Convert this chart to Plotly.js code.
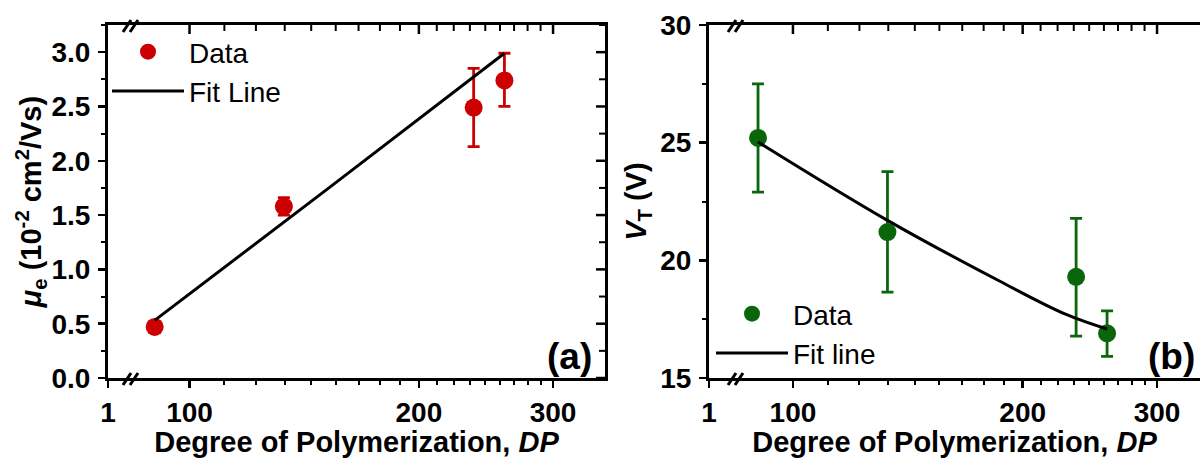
<!DOCTYPE html>
<html>
<head>
<meta charset="utf-8">
<script src="https://cdn.plot.ly/plotly-3.0.1.min.js"></script>
<style>html,body{margin:0;padding:0;background:#fff;}#chart{width:1200px;height:458px;}</style>
</head>
<body>
<div id="chart"></div>
<script>
// ---- data ----
const dpA = [90, 133, 236, 259];
const muA = [0.47, 1.58, 2.49, 2.74];
const muErrPlus = [0.05, 0.08, 0.36, 0.25];
const muErrMinus = [0.05, 0.08, 0.36, 0.24];
const fitDpA = [90, 153, 259];
const fitMuA = [0.53, 1.76, 2.99];

const dpB = [90, 133, 235, 258];
const vtB = [25.2, 21.2, 19.3, 16.9];
const vtErrPlus = [2.3, 2.57, 2.48, 0.95];
const vtErrMinus = [2.3, 2.55, 2.52, 0.98];
const fitDpB = [90, 133, 187, 228, 258];
const fitVtB = [25.03, 21.7, 19.1, 17.7, 17.08];

const xTickVals = [100, 200, 300];
const xTickText = ['100', '200', '300'];
const breakLabel = '1';
const muTicks = [0, 0.5, 1.0, 1.5, 2.0, 2.5, 3.0];
const vtTicks = [15, 20, 25, 30];

// ---- styling ----
const W = 1200, H = 458;
const FONT = 'Liberation Sans, Arial, Helvetica, sans-serif';
const RED = '#cc0000', GREEN = '#0a660a';
const px = v => v / W, py = v => 1 - v / H;

const yDom = [py(378), py(25)];
const domA = [px(108), px(605)];
const domB = [px(709), 1];
const rangeA = [1.893, 2.5453];
const rangeB = [1.890, 2.5334];
const rangeMu = [0, 3.25];
const rangeVt = [15, 30];

// minor tick values (8 minors between log majors, 1 between linear majors)
const xMinors = [];
for (let d = 100; d < 300; d += 100) for (let k = 1; k < 9; k++) xMinors.push(d + 100 * k / 9);
const muMinors = muTicks.map(v => v + 0.25);

const tickFont = {family: FONT, size: 28, weight: 'bold', color: '#000'};
const titleFont = {family: FONT, size: 29, weight: 'bold', color: '#000'};
const lineStyle = {showline: true, linewidth: 3, linecolor: '#000', showgrid: false, zeroline: false};

function xAxisBottom(dom, range, anchor) {
  const leftVal = Math.pow(10, range[0]);
  return Object.assign({
    domain: dom, anchor: anchor, side: 'bottom', type: 'log', range: range, mirror: true,
    ticks: 'outside', ticklen: 7, tickwidth: 2.5, tickcolor: '#000',
    tickmode: 'array', tickvals: [leftVal].concat(xTickVals), ticktext: [breakLabel].concat(xTickText),
    minor: {tickmode: 'array', tickvals: xMinors, ticks: 'outside', ticklen: 4, tickwidth: 2, tickcolor: '#000'},
    tickfont: tickFont, ticklabelstandoff: 0,
    title: {text: 'Degree of Polymerization, <i>DP</i>', font: titleFont, standoff: 8}
  }, lineStyle);
}

const traces = [
  {x: dpA, y: muA, type: 'scatter', mode: 'markers', name: 'Data', xaxis: 'x', yaxis: 'y', legend: 'legend',
   marker: {color: RED, size: 18},
   error_y: {type: 'data', symmetric: false, array: muErrPlus, arrayminus: muErrMinus, color: RED, thickness: 2.8, width: 6}},
  {x: fitDpA, y: fitMuA, type: 'scatter', mode: 'lines', name: 'Fit Line', xaxis: 'x', yaxis: 'y', legend: 'legend',
   line: {color: '#000', width: 3}},
  {x: dpB, y: vtB, type: 'scatter', mode: 'markers', name: 'Data', xaxis: 'x2', yaxis: 'y2', legend: 'legend2',
   marker: {color: GREEN, size: 18},
   error_y: {type: 'data', symmetric: false, array: vtErrPlus, arrayminus: vtErrMinus, color: GREEN, thickness: 2.8, width: 6}},
  {x: fitDpB, y: fitVtB, type: 'scatter', mode: 'lines', name: 'Fit line', xaxis: 'x2', yaxis: 'y2', legend: 'legend2',
   line: {color: '#000', width: 3, shape: 'spline'}}
];

// ---- inward ticks on the mirrored top / right frame lines, in paper units ----
const K = '#000';
const logPos = (v, dom, range) => dom[0] + (Math.log10(v) - range[0]) / (range[1] - range[0]) * (dom[1] - dom[0]);
const linPos = (v, dom, range) => dom[0] + (v - range[0]) / (range[1] - range[0]) * (dom[1] - dom[0]);
function seg(x0, y0, x1, y1, w) {
  return {type: 'line', xref: 'paper', yref: 'paper', x0: x0, y0: y0, x1: x1, y1: y1, line: {color: K, width: w}, layer: 'above'};
}
function topTicks(dom, range) {
  const top = yDom[1], s = [];
  xTickVals.forEach(v => { const x = logPos(v, dom, range); if (x <= dom[1]) s.push(seg(x, top, x, top - 9 / H, 2.5)); });
  xMinors.forEach(v => { const x = logPos(v, dom, range); if (x <= dom[1]) s.push(seg(x, top, x, top - 6 / H, 2)); });
  return s;
}
function rightTicks(dom, range, majors, minorsArr) {
  const r = dom[1], s = [];
  majors.forEach(v => { const y = linPos(v, yDom, range); s.push(seg(r, y, r - 9 / W, y, 2.5)); });
  minorsArr.forEach(v => { const y = linPos(v, yDom, range); if (y <= yDom[1]) s.push(seg(r, y, r - 6 / W, y, 2)); });
  return s;
}
function breakShapes(cx, cy) {
  return [cx, cx + 7].map(c => seg(px(c - 4), py(cy + 6), px(c + 4), py(cy - 6), 3));
}

const layout = {
  width: W, height: H, margin: {l: 0, r: 0, t: 0, b: 0},
  paper_bgcolor: '#fff', plot_bgcolor: '#fff', showlegend: true,
  xaxis: xAxisBottom(domA, rangeA, 'y'),
  xaxis2: xAxisBottom(domB, rangeB, 'y2'),
  yaxis: Object.assign({domain: yDom, anchor: 'x', side: 'left', range: rangeMu, mirror: true,
    ticks: 'outside', ticklen: 7, tickwidth: 2.5, tickcolor: '#000', tickmode: 'array', tickvals: muTicks, tickformat: '.1f',
    minor: {tickmode: 'array', tickvals: muMinors, ticks: 'outside', ticklen: 4, tickwidth: 2, tickcolor: '#000'},
    tickfont: tickFont, ticklabelstandoff: 2,
    title: {text: '<i>μ</i><sub>e</sub> (10<sup>-2</sup> cm<sup>2</sup>/Vs)', font: titleFont, standoff: 0}}, lineStyle),
  yaxis2: Object.assign({domain: yDom, anchor: 'x2', side: 'left', range: rangeVt, mirror: false,
    ticks: 'outside', ticklen: 7, tickwidth: 2.5, tickcolor: '#000', tickmode: 'array', tickvals: vtTicks,
    minor: {dtick: 2.5, tick0: 15, ticks: 'outside', ticklen: 4, tickwidth: 2, tickcolor: '#000'},
    tickfont: tickFont, ticklabelstandoff: 2,
    title: {text: '<i>V</i><sub>T</sub> (V)', font: titleFont, standoff: 6}}, lineStyle),
  legend: {x: px(107), y: py(27), xanchor: 'left', yanchor: 'top', bgcolor: 'rgba(0,0,0,0)', borderwidth: 0,
    font: {family: FONT, size: 28, color: '#000'}, itemwidth: 72, tracegroupgap: 0},
  legend2: {x: px(711), y: py(289), xanchor: 'left', yanchor: 'top', bgcolor: 'rgba(0,0,0,0)', borderwidth: 0,
    font: {family: FONT, size: 28, color: '#000'}, itemwidth: 72, tracegroupgap: 0},
  annotations: [
    {text: '(a)', xref: 'paper', yref: 'paper', x: px(594), y: py(379), xanchor: 'right', yanchor: 'bottom', showarrow: false,
     font: {family: FONT, size: 37, weight: 'bold', color: '#000'}},
    {text: '(b)', xref: 'paper', yref: 'paper', x: px(1146), y: py(379), xanchor: 'left', yanchor: 'bottom', showarrow: false,
     font: {family: FONT, size: 37, weight: 'bold', color: '#000'}}
  ],
  shapes: [].concat(topTicks(domA, rangeA), rightTicks(domA, rangeMu, muTicks, muMinors), topTicks(domB, rangeB),
    breakShapes(127, 379), breakShapes(127, 26), breakShapes(732, 379), breakShapes(732, 26))
};

Plotly.newPlot('chart', traces, layout, {staticPlot: true, displayModeBar: false});
</script>
</body>
</html>
